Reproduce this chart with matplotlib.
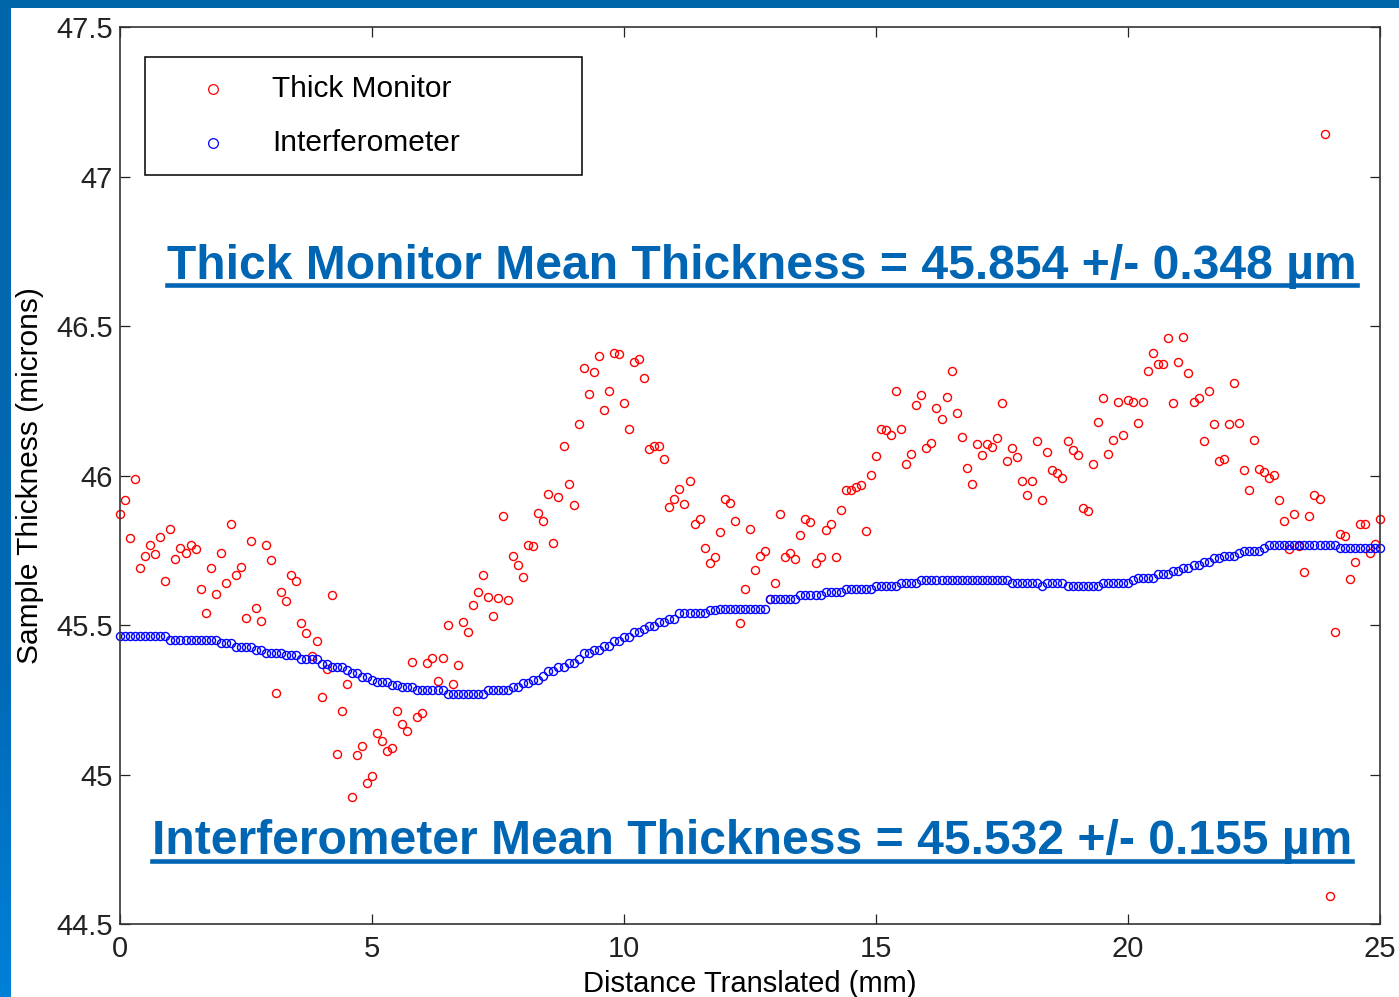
import numpy as np
import matplotlib
matplotlib.use("Agg")
import matplotlib.pyplot as plt
from matplotlib.patches import Rectangle
from matplotlib.lines import Line2D

plt.rcParams['font.family'] = ['Liberation Sans', 'DejaVu Sans']

# sampling step along the translation stage (mm)
x_step = 0.1

# thick monitor readings (microns), one per step starting at 0 mm
thick_monitor = [
    45.870, 45.917, 45.790, 45.987, 45.690, 45.731, 45.769, 45.737, 45.795, 45.648,
    45.822, 45.721, 45.758, 45.742, 45.769, 45.753, 45.621, 45.541, 45.690, 45.604,
    45.742, 45.642, 45.838, 45.668, 45.695, 45.525, 45.780, 45.558, 45.515, 45.769,
    45.716, 45.271, 45.610, 45.579, 45.668, 45.647, 45.508, 45.472, 45.396, 45.445,
    45.260, 45.353, 45.600, 45.069, 45.212, 45.302, 44.925, 45.064, 45.096, 44.973,
    44.994, 45.138, 45.111, 45.079, 45.090, 45.213, 45.170, 45.144, 45.377, 45.191,
    45.207, 45.372, 45.388, 45.313, 45.388, 45.499, 45.303, 45.366, 45.509, 45.476,
    45.568, 45.611, 45.668, 45.594, 45.531, 45.589, 45.864, 45.584, 45.732, 45.700,
    45.662, 45.769, 45.764, 45.876, 45.848, 45.939, 45.775, 45.927, 46.098, 45.971,
    45.902, 46.172, 46.358, 46.273, 46.347, 46.400, 46.220, 46.283, 46.410, 46.406,
    46.241, 46.156, 46.379, 46.390, 46.325, 46.087, 46.098, 46.098, 46.056, 45.896,
    45.923, 45.954, 45.906, 45.981, 45.837, 45.854, 45.758, 45.706, 45.727, 45.812,
    45.923, 45.907, 45.848, 45.508, 45.621, 45.822, 45.685, 45.732, 45.748, 45.588,
    45.642, 45.871, 45.727, 45.741, 45.721, 45.802, 45.855, 45.844, 45.706, 45.727,
    45.817, 45.839, 45.727, 45.886, 45.950, 45.950, 45.961, 45.967, 45.813, 46.002,
    46.066, 46.157, 46.152, 46.135, 46.284, 46.157, 46.040, 46.071, 46.236, 46.269,
    46.093, 46.108, 46.225, 46.188, 46.263, 46.348, 46.210, 46.130, 46.024, 45.971,
    46.104, 46.067, 46.104, 46.094, 46.125, 46.242, 46.050, 46.093, 46.061, 45.982,
    45.934, 45.982, 46.115, 45.919, 46.077, 46.019, 46.009, 45.992, 46.115, 46.084,
    46.067, 45.891, 45.880, 46.040, 46.178, 46.258, 46.071, 46.119, 46.247, 46.135,
    46.253, 46.247, 46.177, 46.247, 46.348, 46.411, 46.374, 46.374, 46.459, 46.242,
    46.379, 46.464, 46.342, 46.246, 46.258, 46.114, 46.284, 46.173, 46.050, 46.056,
    46.173, 46.311, 46.177, 46.018, 45.950, 46.119, 46.023, 46.013, 45.991, 46.002,
    45.917, 45.848, 45.753, 45.870, 45.763, 45.678, 45.864, 45.934, 45.923, 47.143,
    44.592, 45.477, 45.806, 45.796, 45.653, 45.711, 45.838, 45.838, 45.741, 45.772,
    45.854,
]

# interferometer readings come in flat runs: level (microns) and number of samples
interf_levels = [
    45.462, 45.450, 45.439, 45.428, 45.418, 45.408, 45.398, 45.386, 45.371, 45.359,
    45.348, 45.338, 45.326, 45.315, 45.308, 45.298, 45.291, 45.281, 45.270, 45.281,
    45.294, 45.305, 45.316, 45.331, 45.345, 45.360, 45.372, 45.387, 45.406, 45.417,
    45.431, 45.448, 45.461, 45.476, 45.487, 45.498, 45.509, 45.520, 45.539, 45.550,
    45.554, 45.588, 45.599, 45.610, 45.621, 45.630, 45.640, 45.649, 45.640, 45.632,
    45.640, 45.630, 45.641, 45.649, 45.658, 45.669, 45.680, 45.691, 45.702, 45.712,
    45.723, 45.732, 45.740, 45.749, 45.758, 45.769, 45.757,
]
interf_counts = [
    10, 10, 3, 4, 2, 4, 3, 4, 2, 3,
    1, 2, 2, 1, 3, 2, 3, 6, 8, 5,
    2, 2, 2, 1, 2, 2, 2, 1, 2, 2,
    2, 2, 2, 2, 1, 2, 2, 2, 6, 2,
    10, 6, 5, 4, 6, 5, 4, 18, 6, 1,
    4, 7, 6, 1, 4, 3, 2, 2, 2, 2,
    2, 3, 1, 4, 1, 14, 9,
]

thick_label = "Thick Monitor Mean Thickness = 45.854 +/- 0.348 \u00b5m"
interf_label = "Interferometer Mean Thickness = 45.532 +/- 0.155 \u00b5m"

x_thick = np.arange(len(thick_monitor)) * x_step
interferometer = np.repeat(interf_levels, interf_counts)
x_interf = np.arange(len(interferometer)) * x_step

W, H = 1399, 997
fig = plt.figure(figsize=(W / 100, H / 100), dpi=100, facecolor='white')
ax = fig.add_axes([120 / W, (H - 924) / H, 1260 / W, 897 / H])

ax.plot(x_thick, thick_monitor, linestyle='none', marker='o', ms=5.8,
        mfc='none', mec='#ff0000', mew=1.0, clip_on=False)
ax.plot(x_interf, interferometer, linestyle='none', marker='o', ms=5.8,
        mfc='none', mec='#0000ff', mew=1.0, clip_on=False)

ax.set_xlim(0, 25)
ax.set_ylim(44.5, 47.5)
ax.set_xticks([0, 5, 10, 15, 20, 25])
ax.set_yticks([44.5, 45, 45.5, 46, 46.5, 47, 47.5])
ax.set_yticklabels(['44.5', '45', '45.5', '46', '46.5', '47', '47.5'])
ax.tick_params(direction='in', length=7, width=0.9, colors='#222222',
               labelsize=21, top=True, right=True)
ax.tick_params(axis='x', pad=8)
ax.tick_params(axis='y', pad=5)
for s in ax.spines.values():
    s.set_color('#333333')
    s.set_linewidth(1.2)

ax.set_xlabel('Distance Translated (mm)', fontsize=21, labelpad=5)
ax.set_ylabel('Sample Thickness (microns)', fontsize=21.5, labelpad=9)

# legend box drawn in MATLAB style
ax.add_patch(Rectangle((25 / 1260, 1 - 148 / 897), 437 / 1260, 118 / 897,
                       transform=ax.transAxes, fill=False, ec='black', lw=1.1,
                       zorder=5))
leg_y = [1 - 62 / 897, 1 - 116 / 897]
for yy, col, lab in zip(leg_y, ['#ff0000', '#0000ff'], ['Thick Monitor', 'Interferometer']):
    ax.add_line(Line2D([93 / 1260], [yy], transform=ax.transAxes, linestyle='none',
                       marker='o', ms=7, mfc='none', mec=col, mew=0.9))
    ax.text(152 / 1260, yy, lab, transform=ax.transAxes, fontsize=21.5,
            va='center', ha='left')

# blue underlined summary texts
txt_color = '#0066b3'
t1 = ax.text(47 / 1260, 1 - (279 - 27) / 897, thick_label, transform=ax.transAxes,
             fontsize=34.6, fontweight='bold', color=txt_color, va='baseline', ha='left')
t2 = ax.text(32 / 1260, 1 - (854 - 27) / 897, interf_label, transform=ax.transAxes,
             fontsize=34.6, fontweight='bold', color=txt_color, va='baseline', ha='left')

# slide frame
band = fig.add_axes([0, 0, 11 / W, 1])
grad = np.linspace(0, 1, 256).reshape(-1, 1)
cmap = matplotlib.colors.LinearSegmentedColormap.from_list(
    'frame', [(0, '#0080d8'), (0.35, '#0068b4'), (1, '#0066aa')])
band.imshow(grad, aspect='auto', cmap=cmap, origin='lower', extent=[0, 1, 0, 1])
band.set_axis_off()
fig.add_artist(Rectangle((0, (H - 8) / H), 1, 8 / H, transform=fig.transFigure,
                         color='#0066aa', lw=0))

fig.canvas.draw()
renderer = fig.canvas.get_renderer()
for t, base in [(t1, 279), (t2, 854)]:
    bb = t.get_window_extent(renderer)
    y_line = (H - (base + 6.5)) / H
    fig.add_artist(Line2D([bb.x0 / W, bb.x1 / W], [y_line, y_line],
                          transform=fig.transFigure, color=txt_color, lw=3.3))

fig.savefig('out.png', dpi=100)
